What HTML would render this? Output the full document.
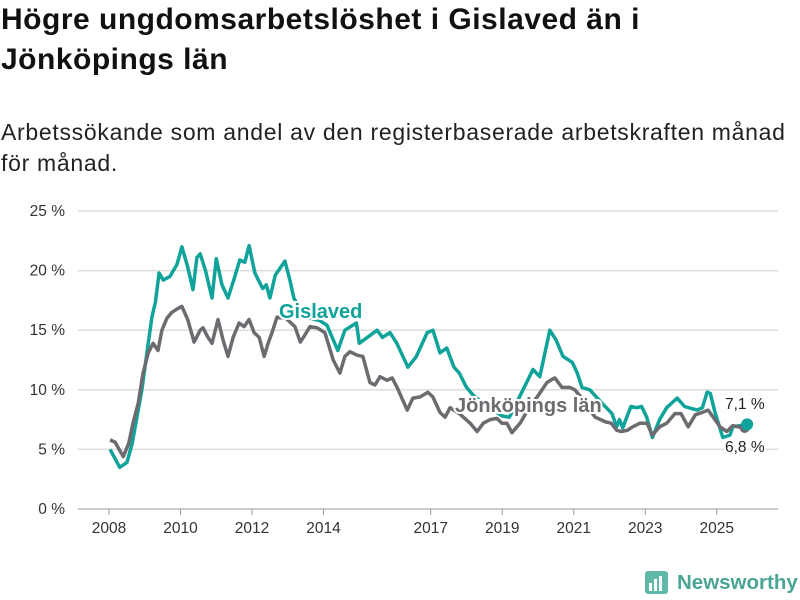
<!DOCTYPE html>
<html><head><meta charset="utf-8">
<style>
body{margin:0;background:#fff;font-family:"Liberation Sans",sans-serif;}
#wrap{position:relative;width:800px;height:600px;overflow:hidden;}
h1{position:absolute;left:1px;top:0px;margin:0;font-size:30px;line-height:40px;font-weight:bold;color:#111;width:800px;letter-spacing:0.5px;white-space:nowrap;}
p.sub{position:absolute;left:1px;top:117px;margin:0;font-size:23px;line-height:31px;color:#222;width:800px;letter-spacing:0.7px;white-space:nowrap;}
svg{position:absolute;left:0;top:0;}
</style></head>
<body><div id="wrap">
<h1>Högre ungdomsarbetslöshet i Gislaved än i<br>Jönköpings län</h1>
<p class="sub">Arbetssökande som andel av den registerbaserade arbetskraften månad<br>för månad.</p>
<svg id="chart" width="800" height="600"></svg>
</div>
<script>
const yTicks=[0,5,10,15,20,25];
const yTickLabels=["0 %","5 %","10 %","15 %","20 %","25 %"];
const xTicks=[2008,2010,2012,2014,2017,2019,2021,2023,2025];
const gisDates=[2008.03,2008.3,2008.5,2008.65,2008.78,2008.92,2009.06,2009.2,2009.3,2009.4,2009.52,2009.7,2009.9,2010.04,2010.2,2010.35,2010.46,2010.55,2010.7,2010.88,2011.0,2011.16,2011.33,2011.52,2011.66,2011.8,2011.92,2012.08,2012.18,2012.3,2012.4,2012.5,2012.65,2012.92,2013.06,2013.17,2013.4,2013.65,2013.9,2014.1,2014.4,2014.6,2014.92,2015.0,2015.5,2015.65,2015.86,2016.05,2016.36,2016.6,2016.9,2017.06,2017.26,2017.45,2017.65,2017.8,2018.0,2018.2,2018.5,2018.8,2019.0,2019.2,2019.58,2019.86,2020.05,2020.33,2020.5,2020.7,2020.96,2021.1,2021.23,2021.45,2021.75,2022.07,2022.2,2022.28,2022.37,2022.6,2022.77,2022.9,2023.04,2023.2,2023.4,2023.6,2023.89,2024.1,2024.45,2024.6,2024.73,2024.82,2024.95,2025.17,2025.37,2025.45,2025.65,2025.85];
const gisValues=[5.0,3.5,3.9,5.5,7.7,10,13.1,16.1,17.4,19.8,19.2,19.5,20.5,22.0,20.3,18.4,21.1,21.4,20.0,17.7,21.0,18.8,17.7,19.5,20.9,20.7,22.1,19.8,19.2,18.5,18.8,17.7,19.6,20.8,19.2,17.7,16.5,16.0,15.8,15.4,13.3,15.0,15.6,13.9,15.0,14.4,14.8,13.9,11.9,12.8,14.8,15.0,13.1,13.5,11.9,11.4,10.2,9.5,8.8,8.2,7.8,7.7,10.0,11.7,11.1,15.0,14.2,12.8,12.3,11.4,10.2,10.0,9.0,8.0,6.9,7.5,6.8,8.6,8.5,8.6,7.7,6.0,7.5,8.5,9.3,8.6,8.3,8.5,9.8,9.7,8.1,6.0,6.2,6.9,7.0,7.1];
const jkpDates=[2008.03,2008.17,2008.4,2008.55,2008.67,2008.82,2008.95,2009.1,2009.23,2009.37,2009.48,2009.62,2009.76,2009.92,2010.04,2010.2,2010.38,2010.55,2010.63,2010.77,2010.88,2011.05,2011.19,2011.33,2011.47,2011.64,2011.78,2011.92,2012.06,2012.2,2012.34,2012.45,2012.56,2012.7,2012.95,2013.2,2013.35,2013.48,2013.62,2013.82,2014.04,2014.27,2014.46,2014.6,2014.74,2014.94,2015.1,2015.3,2015.44,2015.58,2015.78,2015.92,2016.06,2016.34,2016.5,2016.7,2016.92,2017.06,2017.26,2017.4,2017.54,2017.8,2018.1,2018.3,2018.47,2018.66,2018.85,2018.99,2019.13,2019.27,2019.5,2019.75,2020.0,2020.25,2020.35,2020.47,2020.67,2020.89,2021.03,2021.2,2021.4,2021.6,2021.9,2022.05,2022.2,2022.33,2022.5,2022.65,2022.85,2023.05,2023.2,2023.4,2023.6,2023.83,2024.0,2024.2,2024.4,2024.6,2024.76,2024.9,2025.09,2025.28,2025.45,2025.6,2025.78];
const jkpValues=[5.8,5.6,4.4,5.5,7.2,8.9,11.4,13.1,13.9,13.3,15.0,16.0,16.5,16.8,17.0,15.9,14.0,15.0,15.2,14.4,13.9,15.9,14.2,12.8,14.4,15.6,15.3,15.9,14.8,14.4,12.8,13.9,14.8,16.1,16.0,15.3,14.0,14.6,15.3,15.2,14.8,12.5,11.4,12.8,13.2,12.9,12.8,10.6,10.4,11.1,10.8,11.0,10.2,8.3,9.3,9.4,9.8,9.4,8.1,7.7,8.5,8.0,7.2,6.5,7.2,7.5,7.6,7.2,7.2,6.4,7.2,8.5,9.5,10.6,10.8,11.0,10.2,10.2,10.0,9.4,8.5,7.7,7.3,7.2,6.6,6.5,6.6,6.9,7.2,7.2,6.2,6.9,7.2,8.0,8.0,6.9,7.9,8.1,8.3,7.7,6.9,6.5,7.0,6.9,6.8];

const NS="http://www.w3.org/2000/svg";
const svg=document.getElementById('chart');
const X0=78,X1=778;
function xs(t){return 109+(t-2008)*35.75;}
function ys(v){return 509-v*11.92;}
function mk(tag,attrs,txt){const e=document.createElementNS(NS,tag);for(const k in attrs)e.setAttribute(k,attrs[k]);if(txt!==undefined)e.textContent=txt;svg.appendChild(e);return e;}
yTicks.forEach((v,i)=>{
  const g=mk('line',{x1:X0,x2:X1,y1:ys(v),y2:ys(v),stroke:i===0?'#bbb':'#ddd','stroke-width':1.5});
  
  
  const t=mk('text',{x:65,y:ys(v)+5,'text-anchor':'end','font-size':15.5,fill:'#333'},yTickLabels[i]);
  
  
});
xTicks.forEach(yr=>{
  const l=mk('line',{x1:xs(yr),x2:xs(yr),y1:509,y2:515,stroke:'#999','stroke-width':1});
  
  
  const t=mk('text',{x:xs(yr),y:533,'text-anchor':'middle','font-size':15.5,fill:'#333'},String(yr));
  
  
});
function path(d,v){return d.map((t,i)=>(i?'L':'M')+xs(t).toFixed(1)+','+ys(v[i]).toFixed(1)).join('');}
const pg=mk('path',{d:path(gisDates,gisValues),fill:'none',stroke:'#0fa39a','stroke-width':3.5,'stroke-linejoin':'round'});


const pj=mk('path',{d:path(jkpDates,jkpValues),fill:'none',stroke:'#6d6b70','stroke-width':3.5,'stroke-linejoin':'round'});


const dj=mk('circle',{cx:xs(jkpDates[jkpDates.length-1]),cy:ys(jkpValues[jkpValues.length-1]),r:5,fill:'#6d6b70'});


const dg=mk('circle',{cx:xs(gisDates[gisDates.length-1]),cy:ys(gisValues[gisValues.length-1]),r:6,fill:'#0fa39a'});


const lg=mk('text',{x:279,y:318,'font-size':20,'font-weight':'bold',fill:'#0fa39a',stroke:'#fff','stroke-width':4,'paint-order':'stroke'},'Gislaved');


const lj=mk('text',{x:455,y:412,'font-size':20,'font-weight':'bold',fill:'#6d6b70',stroke:'#fff','stroke-width':4,'paint-order':'stroke'},'Jönköpings län');


const vg=mk('text',{x:725,y:409,'font-size':15.5,fill:'#222',stroke:'#fff','stroke-width':3,'paint-order':'stroke'},'7,1 %');


const vj=mk('text',{x:725,y:452,'font-size':15.5,fill:'#222',stroke:'#fff','stroke-width':3,'paint-order':'stroke'},'6,8 %');


const lr=mk('rect',{x:645,y:571,width:23,height:23,rx:3,fill:'#5fb8a8'});


[[649,583,3,8],[654,579,3,12],[659,576,3,15]].forEach(b=>{const r=mk('rect',{x:b[0],y:b[1],width:b[2],height:b[3],fill:'#fff'});});
const lt=mk('text',{x:677,y:589,'font-size':20.5,'font-weight':'bold',fill:'#4aa595'},'Newsworthy');


</script>
</body></html>
